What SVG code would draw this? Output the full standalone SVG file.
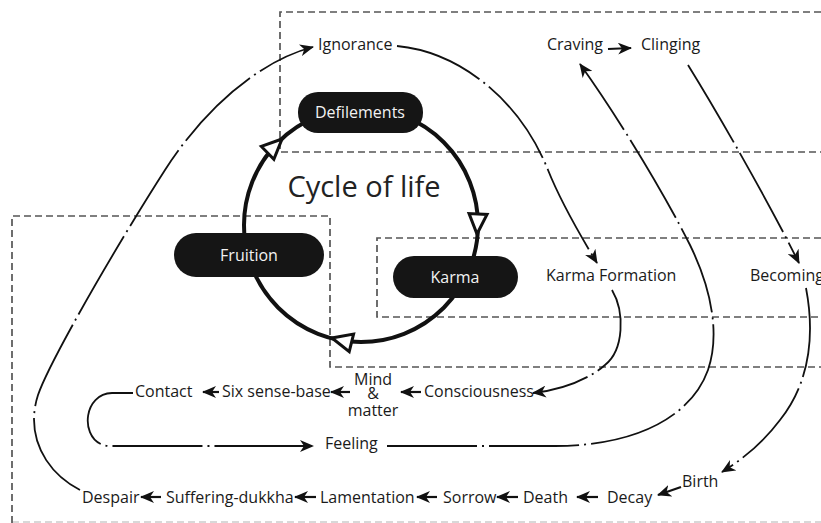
<svg xmlns="http://www.w3.org/2000/svg" xmlns:xlink="http://www.w3.org/1999/xlink" width="821" height="523" viewBox="0 0 821 523">
<style>
.frame{fill:none;stroke:#555;stroke-width:1.7;stroke-dasharray:7 4}
.conn{fill:none;stroke:#111;stroke-width:1.8;stroke-dasharray:90 5 2 5}
.short{fill:none;stroke:#111;stroke-width:2.2}
.lbl{font-family:"Open Sans","DejaVu Sans",sans-serif;font-size:16px;fill:#1a1a1a}
.ntxt{font-family:"Open Sans","DejaVu Sans",sans-serif;font-size:16px;fill:#f2f2f2;text-anchor:middle}
.node{fill:#151515}
.cycle{fill:none;stroke:#111;stroke-width:4}
.open{fill:#fff;stroke:#111;stroke-width:3;stroke-linejoin:miter}
</style>
<defs>
<marker id="arr" viewBox="0 0 14 12" refX="13" refY="6" markerWidth="14" markerHeight="12" markerUnits="userSpaceOnUse" orient="auto">
<path d="M0,0 L14,6 L0,12 L4,6 Z" fill="#111"/>
</marker>
<path id="tri" d="M0,0 L-20,-9 L-20,9 Z"/>
</defs>
<rect width="821" height="523" fill="#fff"/>
<g id="frames">
<path class="frame" d="M821,12 L280,12 L280,152 L821,152"/>
<path class="frame" d="M12,523 L12,216 L330,216 L330,367 L821,367"/>
<path class="frame" d="M821,238 L377,238 L377,317 L821,317"/>
<path class="frame" d="M12,522 L821,522" opacity="0.3"/>
</g>
<g id="cycle">
<circle class="cycle" cx="361" cy="225" r="117"/>
<use href="#tri" class="open" transform="translate(282,139) rotate(-44)"/>
<use href="#tri" class="open" transform="translate(477,234) rotate(93)"/>
<use href="#tri" class="open" transform="translate(332,338) rotate(194)"/>
<text x="364" y="197" font-family="'Open Sans','DejaVu Sans',sans-serif" font-size="29" fill="#222" text-anchor="middle">Cycle of life</text>
</g>
<g id="node-defilements">
<rect class="node" x="298" y="92" width="125" height="41" rx="20"/>
<text class="ntxt" x="360" y="118">Defilements</text>
</g>
<g id="node-fruition">
<rect class="node" x="174" y="233" width="150" height="44" rx="22"/>
<text class="ntxt" x="249" y="261">Fruition</text>
</g>
<g id="node-karma">
<rect class="node" x="393" y="256" width="125" height="42" rx="21"/>
<text class="ntxt" x="455" y="283">Karma</text>
</g>
<g id="connectors">
<path class="conn" d="M80,490 C45,472 25,435 38,395 C50,360 120,240 165,170 C200,115 255,62 313,47" marker-end="url(#arr)"/>
<path class="conn" d="M397,46 C460,52 520,100 548,170 C560,200 580,235 597,263" marker-end="url(#arr)"/>
<path class="conn" d="M387,446 L555,446 C630,446 690,420 708,370 C720,335 712,290 690,245 C665,195 620,120 580,64" marker-end="url(#arr)"/>
<path class="conn" d="M688,65 C722,120 770,205 799,263" marker-end="url(#arr)"/>
<path class="conn" d="M612,290 C625,312 624,350 605,365 C588,380 560,390 533,393" marker-end="url(#arr)"/>
<path class="conn" d="M806,288 C814,330 812,380 780,420 C765,440 745,458 722,472" marker-end="url(#arr)"/>
<path class="conn" d="M133,393 L112,393 C80,394 80,446 110,446 L313,446" marker-end="url(#arr)"/>
<line class="short" x1="608" y1="49" x2="631" y2="48" marker-end="url(#arr)"/>
<line class="short" x1="219" y1="392" x2="203" y2="392" marker-end="url(#arr)"/>
<line class="short" x1="350" y1="392" x2="331" y2="392" marker-end="url(#arr)"/>
<line class="short" x1="421" y1="392" x2="401" y2="392" marker-end="url(#arr)"/>
<line class="short" x1="161" y1="497" x2="141" y2="497" marker-end="url(#arr)"/>
<line class="short" x1="316" y1="497" x2="295" y2="497" marker-end="url(#arr)"/>
<line class="short" x1="437" y1="497" x2="417" y2="497" marker-end="url(#arr)"/>
<line class="short" x1="518" y1="497" x2="497" y2="497" marker-end="url(#arr)"/>
<line class="short" x1="598" y1="497" x2="577" y2="497" marker-end="url(#arr)"/>
<line class="short" x1="681" y1="487" x2="658" y2="495" marker-end="url(#arr)"/>
</g>
<g id="node-ignorance"><text class="lbl" x="318" y="50">Ignorance</text></g>
<g id="node-craving"><text class="lbl" x="547" y="50">Craving</text></g>
<g id="node-clinging"><text class="lbl" x="641" y="50">Clinging</text></g>
<g id="node-karma-formation"><text class="lbl" x="546" y="281">Karma Formation</text></g>
<g id="node-becoming"><text class="lbl" x="750" y="281">Becoming</text></g>
<g id="node-consciousness"><text class="lbl" x="424" y="397">Consciousness</text></g>
<g id="node-mind-matter">
<text class="lbl" x="373" y="385" text-anchor="middle" font-size="14">Mind</text>
<text class="lbl" x="373" y="399" text-anchor="middle" font-size="9">&amp;</text>
<text class="lbl" x="373" y="416" text-anchor="middle" font-size="14">matter</text>
</g>
<g id="node-six-sense-base"><text class="lbl" x="222" y="397">Six sense-base</text></g>
<g id="node-contact"><text class="lbl" x="135" y="397">Contact</text></g>
<g id="node-feeling"><text class="lbl" x="325" y="449">Feeling</text></g>
<g id="node-despair"><text class="lbl" x="82" y="503">Despair</text></g>
<g id="node-suffering"><text class="lbl" x="166" y="503">Suffering-dukkha</text></g>
<g id="node-lamentation"><text class="lbl" x="320" y="503">Lamentation</text></g>
<g id="node-sorrow"><text class="lbl" x="443" y="503">Sorrow</text></g>
<g id="node-death"><text class="lbl" x="523" y="503">Death</text></g>
<g id="node-decay"><text class="lbl" x="607" y="503">Decay</text></g>
<g id="node-birth"><text class="lbl" x="682" y="487">Birth</text></g>
</svg>
